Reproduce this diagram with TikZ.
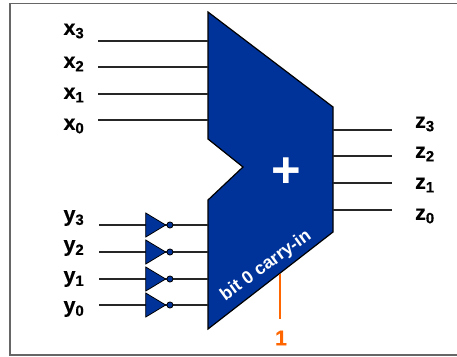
\documentclass[tikz,border=0pt]{standalone}
\usepackage{fontspec}
\setmainfont{Liberation Sans}
\usetikzlibrary{positioning,shapes.geometric}
\definecolor{adderblue}{RGB}{0,51,153}
\definecolor{carryorange}{RGB}{255,102,0}
\newcommand{\pinfont}{\fontsize{16}{18}\selectfont\bfseries\addfontfeatures{FakeBold=0.5}}
\newcommand{\carryfont}{\fontsize{13.4}{15}\selectfont\bfseries}
\tikzset{
  wire/.style={draw=black!85, line width=0.8pt},
  carrywire/.style={draw=carryorange, line width=1.3pt},
  adderbody/.style={draw=black, line width=0.9pt, fill=adderblue},
  invbox/.style={draw=black, line width=0.6pt, fill=adderblue, isosceles triangle, isosceles triangle apex angle=62, inner sep=0pt, minimum height=15pt, minimum width=18pt, anchor=center},
  bubble/.style={draw=black, line width=0.6pt, fill=adderblue, circle, inner sep=0pt, minimum size=4.6pt},
  pinlabel/.style={font=\pinfont, inner sep=0pt},
  carrylabel/.style={font=\carryfont, text=white, inner sep=0pt, rotate=36}
}
\begin{document}
\begin{tikzpicture}[x=0.75pt, y=-0.75pt]
  \useasboundingbox (0,0) rectangle (457,357);
  \draw[line width=0.8pt, draw=black!60] (10,3.5) rectangle (470,355);
  % adder outline
  \draw[adderbody] (208,12) -- (333,107) -- (333,232) -- (208,329) -- (208,200) -- (243,167) -- (208,139) -- cycle;
  \node[font=\fontsize{38}{38}\selectfont\bfseries, text=white, inner sep=0pt] (plus) at (286,173) {+};
  \node[carrylabel] (carry) at (266,266) {bit 0 carry-in};
  % x inputs
  \node[pinlabel] (x3) at (74,31) {x\textsubscript{3}};
  \node[pinlabel] (x2) at (74,64) {x\textsubscript{2}};
  \node[pinlabel] (x1) at (74,95) {x\textsubscript{1}};
  \node[pinlabel] (x0) at (74,126) {x\textsubscript{0}};
  \coordinate (x3a) at (98,41);
  \coordinate (x2a) at (98,67);
  \coordinate (x1a) at (98,94);
  \coordinate (x0a) at (98,120);
  \coordinate (x3b) at (208,41);
  \coordinate (x2b) at (208,67);
  \coordinate (x1b) at (208,94);
  \coordinate (x0b) at (208,120);
  \draw[wire] (x3a) -- (x3b);
  \draw[wire] (x2a) -- (x2b);
  \draw[wire] (x1a) -- (x1b);
  \draw[wire] (x0a) -- (x0b);
  % y inputs
  \node[pinlabel] (y3) at (74,218) {y\textsubscript{3}};
  \node[pinlabel] (y2) at (74,248) {y\textsubscript{2}};
  \node[pinlabel] (y1) at (74,279) {y\textsubscript{1}};
  \node[pinlabel] (y0) at (74,309) {y\textsubscript{0}};
  \coordinate (y3a) at (99,225);
  \coordinate (y2a) at (99,252);
  \coordinate (y1a) at (99,279);
  \coordinate (y0a) at (99,305);
  \coordinate (y3b) at (208,225);
  \coordinate (y2b) at (208,252);
  \coordinate (y1b) at (208,279);
  \coordinate (y0b) at (208,305);
  \draw[wire] (y3a) -- (y3b);
  \draw[wire] (y2a) -- (y2b);
  \draw[wire] (y1a) -- (y1b);
  \draw[wire] (y0a) -- (y0b);
  \node[invbox] (inv3) at (152.5,225) {};
  \node[invbox] (inv2) at (152.5,252) {};
  \node[invbox] (inv1) at (152.5,279) {};
  \node[invbox] (inv0) at (152.5,305) {};
  \node[bubble, right=0pt of inv3.apex] (b3) {};
  \node[bubble, right=0pt of inv2.apex] (b2) {};
  \node[bubble, right=0pt of inv1.apex] (b1) {};
  \node[bubble, right=0pt of inv0.apex] (b0) {};
  % z outputs
  \node[pinlabel] (z3) at (425,124) {z\textsubscript{3}};
  \node[pinlabel] (z2) at (425,154) {z\textsubscript{2}};
  \node[pinlabel] (z1) at (425,185) {z\textsubscript{1}};
  \node[pinlabel] (z0) at (425,216) {z\textsubscript{0}};
  \coordinate (z3a) at (333,130);
  \coordinate (z2a) at (333,156);
  \coordinate (z1a) at (333,183);
  \coordinate (z0a) at (333,210);
  \coordinate (z3b) at (392,130);
  \coordinate (z2b) at (392,156);
  \coordinate (z1b) at (392,183);
  \coordinate (z0b) at (392,210);
  \draw[wire] (z3a) -- (z3b);
  \draw[wire] (z2a) -- (z2b);
  \draw[wire] (z1a) -- (z1b);
  \draw[wire] (z0a) -- (z0b);
  % carry in
  \coordinate (cin) at (280,274);
  \node[font=\pinfont, text=carryorange, inner sep=0pt] (one) at (281,338) {1};
  \coordinate (cout) at (280,319);
  \draw[carrywire] (cin) -- (cout);
\end{tikzpicture}
\end{document}
